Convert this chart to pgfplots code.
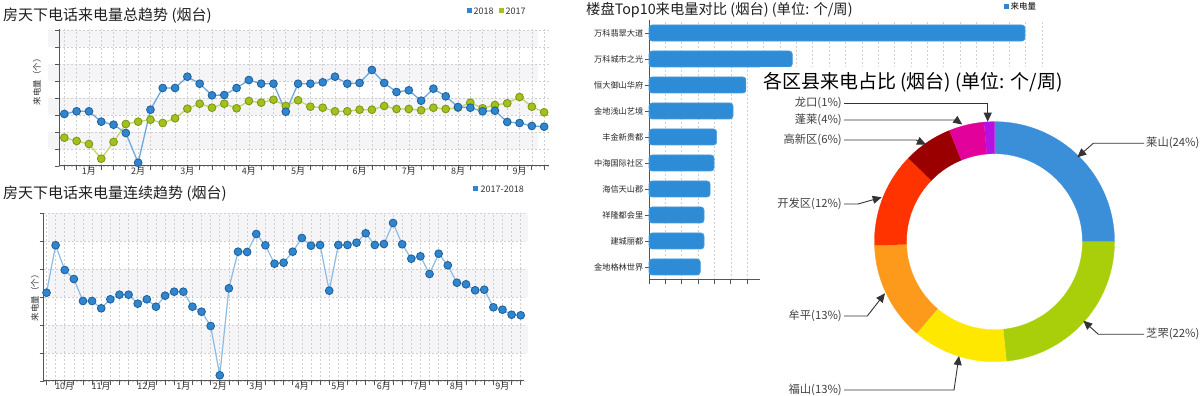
\documentclass[border=0pt]{standalone}
\usepackage{fontspec}
\setmainfont{Noto Sans CJK SC}
\usepackage{pgfplots}
\usepackage{pgfplotstable}
\pgfplotsset{compat=1.18}
\usetikzlibrary{arrows.meta}

\definecolor{cBf}{HTML}{2F86CF}
\definecolor{cBd}{HTML}{1E5E9A}
\definecolor{cBl}{HTML}{6FA8DC}
\definecolor{cBl2}{HTML}{8CBBE3}
\definecolor{cGf}{HTML}{A2C11C}
\definecolor{cGd}{HTML}{7A9414}
\definecolor{cGl}{HTML}{C2D66A}
\definecolor{gridc}{HTML}{CFCFCF}
\definecolor{axisc}{HTML}{555555}
\definecolor{bandc}{HTML}{F5F5F8}
\definecolor{labc}{HTML}{333333}
\definecolor{barc}{HTML}{2E8CD6}
\definecolor{bard}{HTML}{4A9CDD}
\definecolor{sA}{HTML}{3A8FD8}
\definecolor{sB}{HTML}{A8CF0A}
\definecolor{sC}{HTML}{FFE800}
\definecolor{sD}{HTML}{FD9A1C}
\definecolor{sE}{HTML}{FF3300}
\definecolor{sF}{HTML}{9A0000}
\definecolor{sG}{HTML}{E2019B}
\definecolor{sH}{HTML}{B610E3}

% chart 1: weekly calls 2018 / 2017
\pgfplotstableread{
i y18 y17
0 52.0 28.3
1 54.7 25.0
2 54.7 22.0
3 44.3 7.3
4 41.3 24.0
5 33.0 42.0
6 3.3 44.3
7 56.3 46.3
8 78.0 43.0
9 78.0 47.7
10 89.3 57.3
11 82.3 62.3
12 70.7 58.3
13 71.0 62.3
14 78.0 57.7
15 86.0 65.0
16 82.3 63.3
17 82.3 66.3
18 54.3 60.0
19 82.3 65.7
20 82.3 59.3
21 83.7 58.3
22 89.3 54.7
23 82.3 54.7
24 83.0 56.3
25 96.0 56.3
26 83.0 60.0
27 74.0 57.0
28 75.7 57.0
29 65.3 55.7
30 77.3 58.3
31 69.7 57.0
32 59.0 58.3
33 58.3 63.3
34 54.7 57.7
35 55.3 61.0
36 44.0 62.7
37 43.0 69.0
38 40.0 59.3
39 39.3 53.7
}\tabA

% chart 2: continuous 2017-2018
\pgfplotstableread{
i y
0 88.3
1 135.7
2 111.0
3 102.0
4 80.0
5 80.0
6 72.7
7 81.7
8 86.3
9 86.3
10 77.3
11 81.7
12 74.3
13 85.3
14 89.3
15 89.3
16 74.3
17 69.3
18 55.0
19 5.7
20 92.7
21 129.3
22 129.0
23 147.0
24 135.7
25 117.3
26 118.3
27 129.3
28 143.0
29 135.3
30 136.0
31 90.3
32 136.0
33 136.0
34 138.3
35 147.7
36 136.0
37 137.0
38 158.0
39 136.7
40 122.3
41 124.7
42 107.0
43 127.3
44 115.7
45 98.3
46 96.7
47 90.7
48 91.3
49 73.7
50 71.3
51 66.3
52 65.7
}\tabB

% chart 3: top 10 (bottom to top)
\pgfplotstableread{
v k
31.3 0
33.6 1
33.6 2
37.3 3
39.7 4
41.3 5
51.3 6
59.2 7
87.5 8
229.6 9
}\tabC

% chart 4: share by district (percent)
\def\pA{25.0}\def\pB{23.4}\def\pC{12.8}\def\pD{13.3}
\def\pE{12.75}\def\pF{6.6}\def\pG{4.75}\def\pH{1.4}
\pgfmathsetmacro\aA{0}
\pgfmathsetmacro\aB{\aA+3.6*\pA}
\pgfmathsetmacro\aC{\aB+3.6*\pB}
\pgfmathsetmacro\aD{\aC+3.6*\pC}
\pgfmathsetmacro\aE{\aD+3.6*\pD}
\pgfmathsetmacro\aF{\aE+3.6*\pE}
\pgfmathsetmacro\aG{\aF+3.6*\pF}
\pgfmathsetmacro\aH{\aG+3.6*\pG}
\pgfmathsetmacro\aI{\aH+3.6*\pH}

\newcommand{\ring}[3]{%
  \addplot[fill=#3, draw=#3, line width=0.3pt, domain=0:2, samples=201, variable=\t]
  ({rr(\t)*sin(#1+(#2-#1)*fr(\t))},{rr(\t)*cos(#1+(#2-#1)*fr(\t))});}

\pgfplotsset{
  linestyle/.style={
    scale only axis, anchor=south west, clip=false,
    axis x line=bottom, axis y line=left,
    axis line style={-, draw=axisc, line width=1pt},
    tick style={draw=axisc, line width=0.8pt},
    tick align=outside, major tick length=4pt,
    xticklabels={}, yticklabels={},
    grid=major,
    major grid style={draw=gridc, dash pattern=on 2pt off 2pt, line width=0.6pt},
    extra x tick style={grid=none, major tick length=0pt},
    xticklabel style={font=\fontsize{9}{10}\selectfont, text=labc, inner sep=1pt},
  }
}

\begin{document}
\begin{tikzpicture}[x=1pt,y=1pt]
\useasboundingbox (0,0) rectangle (1200,396);
\fill[white] (0,0) rectangle (1200,396);

% background bands
\fill[bandc] (48,247) rectangle (538,264);
\fill[bandc] (48,281) rectangle (538,298);
\fill[bandc] (48,315) rectangle (538,332);
\fill[bandc] (48,349) rectangle (538,366);
\fill[bandc] (47.7,42.95) rectangle (528.3,70.9);
\fill[bandc] (47.7,98.85) rectangle (528.3,126.8);
\fill[bandc] (47.7,154.75) rectangle (528.3,182.7);

% ---------- chart 3 ----------
\begin{scope}[shift={(649,116)}]
\begin{axis}[linestyle,
  at={(0,0)}, width=393pt, height=260pt,
  xmin=0, xmax=240, ymin=-0.5, ymax=9.5,
  xtick={0,10,...,240}, ytick={0,1,2,3,4,5,6,7,8,9},
  ymajorgrids=false,
  yticklabels={金地格林世界,建城丽都,祥隆都会里,海信天山郡,中海国际社区,丰金新贵都,金地浅山艺境,恒大御山华府,万科城市之光,万科翡翠大道},
  yticklabel style={font=\fontsize{8.2}{9}\selectfont, text=black!85, inner sep=1.5pt},
]
\addplot[xbar, bar width=16pt, fill=barc, draw=bard, line width=0.6pt, rounded corners=3pt]
  table[x=v, y=k] {\tabC};
\end{axis}
\end{scope}

% ---------- chart 1 ----------
\begin{axis}[linestyle,
  at={(48,230)}, width=490pt, height=137pt,
  xmin=-0.43, xmax=39.4, ymin=0, ymax=137,
  xtick={0,...,39}, ytick={0,17,...,136},
  extra x ticks={2,6,10,15,19,24,28,32,37},
  extra x tick labels={1月,2月,3月,4月,5月,6月,7月,8月,9月},
]
\addplot[color=cGl, line width=1.3pt, mark=*, mark size=3.9pt,
  mark options={fill=cGf, draw=cGd, line width=0.8pt}] table[x=i, y=y17] {\tabA};
\addplot[color=cBl, line width=1.3pt, mark=*, mark size=3.9pt,
  mark options={fill=cBf, draw=cBd, line width=0.8pt}] table[x=i, y=y18] {\tabA};
\end{axis}

% ---------- chart 2 ----------
\begin{axis}[linestyle,
  at={(47.7,15)}, width=480.6pt, height=167.7pt,
  xmin=-0.33, xmax=52.37, ymin=0, ymax=167.7,
  xtick={0,...,52}, ytick={0,27.95,55.9,83.85,111.8,139.75,167.7},
  extra x ticks={2,6,11,15,19,23,28,32,37,41,45,50},
  extra x tick labels={10月,11月,12月,1月,2月,3月,4月,5月,6月,7月,8月,9月},
]
\addplot[color=cBl2, line width=1.2pt, mark=*, mark size=3.9pt,
  mark options={fill=cBf, draw=cBd, line width=0.8pt}] table[x=i, y=y] {\tabB};
\end{axis}

% legends
\fill[cBf] (466.5,382.5) rectangle (471.5,387.5);
\node[anchor=west, inner sep=0, font=\fontsize{9}{10}\selectfont, text=labc] at (473.5,385) {2018};
\fill[cGf] (498.5,382.5) rectangle (503.5,387.5);
\node[anchor=west, inner sep=0, font=\fontsize{9}{10}\selectfont, text=labc] at (505.5,385) {2017};
\fill[cBf] (473.2,204.5) rectangle (478.2,209.5);
\node[anchor=west, inner sep=0, font=\fontsize{9}{10}\selectfont, text=labc] at (480.5,207) {2017-2018};
\fill[cBf] (1004.2,386.8) rectangle (1009.2,391.8);
\node[anchor=west, inner sep=0, font=\fontsize{8.5}{9}\selectfont, text=black] at (1010.5,389.3) {来电量};

% titles and y labels
\node[anchor=west, inner sep=0, font=\fontsize{15}{18}\selectfont, text=black!88] at (3,380) {房天下电话来电量总趋势 (烟台)};
\node[anchor=west, inner sep=0, font=\fontsize{15}{18}\selectfont, text=black!88] at (3,202) {房天下电话来电量连续趋势 (烟台)};
\node[anchor=west, inner sep=0, font=\fontsize{14.3}{17}\selectfont, text=black!88] at (586,386) {楼盘Top10来电量对比 (烟台) (单位: 个/周)};
\node[rotate=90, inner sep=0, font=\fontsize{8.5}{9}\selectfont, text=labc] at (37,316) {来电量（个）};
\node[rotate=90, inner sep=0, font=\fontsize{8.5}{9}\selectfont, text=labc] at (35,100) {来电量（个）};

% ---------- chart 4 panel ----------
\fill[white] (760,0) rectangle (1200,328.5);
\node[anchor=west, inner sep=0, font=\fontsize{19}{22}\selectfont, text=black] at (763,313.5) {各区县来电占比 (烟台) (单位: 个/周)};

\begin{axis}[
  at={(864.5,24.3)}, anchor=south west, scale only axis, width=260pt, height=260pt,
  xmin=-130, xmax=130, ymin=-130, ymax=130, hide axis, clip=false,
  declare function={fr(\t)=ifthenelse(\t<1, min(1,1.05*\t), max(0,min(1,1.05-1.05*(\t-1))));
                    rr(\t)=ifthenelse(\t<1,120,88);},
]
\ring{\aA}{\aB}{sA}
\ring{\aB}{\aC}{sB}
\ring{\aC}{\aD}{sC}
\ring{\aD}{\aE}{sD}
\ring{\aE}{\aF}{sE}
\ring{\aF}{\aG}{sF}
\ring{\aG}{\aH}{sG}
\ring{\aH}{\aI}{sH}
\end{axis}

\tikzset{lab/.style={inner sep=0, font=\fontsize{11.3}{13}\selectfont, text=black!75},
         lead/.style={draw=black!80, line width=0.9pt, -{Triangle[length=9pt,width=8pt]}}}
\node[lab, anchor=east] at (842,292.7) {龙口(1\%)};
\draw[lead] (844,292.7) -- (987.7,292.7) -- (987.7,274.3);
\node[lab, anchor=east] at (842,276) {蓬莱(4\%)};
\draw[lead] (844,276) -- (956,276) -- (962.3,271.5);
\node[lab, anchor=east] at (842,256) {高新区(6\%)};
\draw[lead] (844,256) -- (916,256) -- (926,251.5);
\node[lab, anchor=west] at (1146,252.7) {莱山(24\%)};
\draw[lead] (1144,252.7) -- (1093.3,252.7) -- (1077.3,238.7);
\node[lab, anchor=east] at (842,192) {开发区(12\%)};
\draw[lead] (844,192) -- (858,192) -- (881.7,198.7);
\node[lab, anchor=east] at (842,80) {牟平(13\%)};
\draw[lead] (844,80) -- (867.3,80) -- (885,102.7);
\node[lab, anchor=east] at (842,6) {福山(13\%)};
\draw[lead] (844,6) -- (954,6) -- (959,40);
\node[lab, anchor=west] at (1146,61.7) {芝罘(22\%)};
\draw[lead] (1144,61.7) -- (1098.3,61.7) -- (1083.3,75.3);

\end{tikzpicture}
\end{document}
